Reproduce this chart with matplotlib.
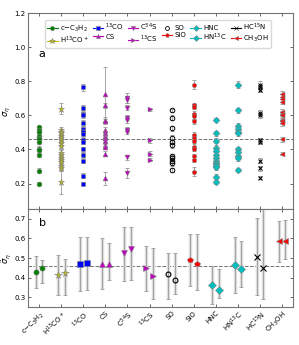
import matplotlib
matplotlib.use('Agg')
import matplotlib.pyplot as plt
from matplotlib.lines import Line2D
import numpy as np

# categories (tick labels in panel b)
species = ['c$-$C$_3$H$_2$', 'H$^{13}$CO$^+$', '$^{13}$CO', 'CS', 'C$^{34}$S', '$^{13}$CS',
           'SO', 'SiO', 'HNC', 'HN$^{13}$C', 'HC$^{15}$N', 'CH$_3$OH']
legend_names = ['c$-$C$_3$H$_2$', 'H$^{13}$CO$^+$', '$^{13}$CO', 'CS', 'C$^{34}$S', '$^{13}$CS',
                'SO', 'SiO', 'HNC', 'HN$^{13}$C', 'HC$^{15}$N', 'CH$_3$OH']
colors = ['green', 'y', 'b', 'm', 'm', 'm', 'k', 'r', 'c', 'c', 'k', 'r']
markers = ['o', '*', 's', '^', 'v', '>', 'o', 'p', 'D', 'D', 'x', '<']

# panel a: sigma_eta for individual regions
sig_a = [
    [0.53, 0.515, 0.50, 0.48, 0.47, 0.46, 0.445, 0.405, 0.395, 0.37, 0.275, 0.20],
    [0.64, 0.515, 0.505, 0.495, 0.48, 0.47, 0.455, 0.435, 0.42, 0.38, 0.365, 0.35, 0.34, 0.325, 0.305, 0.29, 0.21],
    [0.765, 0.645, 0.61, 0.60, 0.555, 0.52, 0.51, 0.50, 0.49, 0.455, 0.445, 0.40, 0.37, 0.335, 0.245, 0.20],
    [0.725, 0.66, 0.575, 0.565, 0.515, 0.495, 0.48, 0.465, 0.45, 0.425, 0.415, 0.375, 0.23],
    [0.70, 0.69, 0.645, 0.585, 0.57, 0.515, 0.505, 0.355, 0.26],
    [0.635, 0.455, 0.375, 0.34],
    [0.63, 0.585, 0.525, 0.47, 0.445, 0.425, 0.36, 0.35, 0.335, 0.32, 0.28],
    [0.78, 0.66, 0.65, 0.61, 0.595, 0.565, 0.485, 0.465, 0.45, 0.415, 0.405, 0.36, 0.34, 0.27],
    [0.575, 0.495, 0.45, 0.41, 0.39, 0.37, 0.35, 0.335, 0.32, 0.315, 0.30, 0.295, 0.24, 0.21],
    [0.78, 0.63, 0.54, 0.52, 0.505, 0.495, 0.40, 0.385, 0.36, 0.35, 0.28],
    [0.78, 0.765, 0.75, 0.615, 0.60, 0.455, 0.445, 0.335, 0.29, 0.235],
    [0.725, 0.71, 0.695, 0.68, 0.62, 0.61, 0.60, 0.575, 0.565, 0.555, 0.46, 0.375],
]
# errors of the highest and lowest point of each species (others small)
err_top = [0.01, 0.03, 0.02, 0.16, 0.03, 0.01, 0.01, 0.025, 0.01, 0.02, 0.02, 0.02]
err_low = [0.01, 0.07, 0.01, 0.04, 0.03, 0.01, 0.01, 0.025, 0.01, 0.01, 0.01, 0.01]

# panel b: two global estimates per species with ranges
sig_b1 = [0.43, 0.415, 0.47, 0.47, 0.525, 0.45, 0.42, 0.488, 0.362, 0.466, 0.505, 0.585]
lo_b1 = [0.345, 0.31, 0.33, 0.34, 0.385, 0.33, 0.292, 0.356, 0.267, 0.323, 0.309, 0.478]
hi_b1 = [0.51, 0.515, 0.605, 0.60, 0.66, 0.563, 0.526, 0.624, 0.458, 0.61, 0.703, 0.69]
sig_b2 = [0.45, 0.425, 0.475, 0.47, 0.545, 0.41, 0.39, 0.472, 0.336, 0.446, 0.45, 0.587]
lo_b2 = [0.375, 0.31, 0.335, 0.39, 0.39, 0.29, 0.318, 0.339, 0.296, 0.35, 0.29, 0.496]
hi_b2 = [0.49, 0.495, 0.605, 0.575, 0.66, 0.553, 0.526, 0.624, 0.446, 0.585, 0.76, 0.695]

mean_sigma = 0.46

plt.rcParams['font.size'] = 5
fig = plt.figure(figsize=(2.99, 3.45), dpi=100)
ax1 = fig.add_axes([0.094, 0.394, 0.886, 0.568])
ax2 = fig.add_axes([0.094, 0.110, 0.886, 0.284])

x = np.arange(1, len(species) + 1)

for i in range(len(species)):
    vals = np.array(sig_a[i])
    err = np.full(len(vals), 0.015)
    err[np.argmax(vals)] = err_top[i]
    err[np.argmin(vals)] = err_low[i]
    xs = np.full(len(vals), x[i])
    ax1.errorbar(xs, vals, yerr=err, fmt='none', ecolor='0.6', elinewidth=0.6,
                 capsize=1.5, capthick=0.6, zorder=1)
    if markers[i] == 'o' and colors[i] == 'k':
        ax1.plot(xs, vals, ls='none', marker='o', mfc='none', mec='k', ms=3.3, mew=0.7, zorder=2)
    else:
        ax1.plot(xs, vals, ls='none', marker=markers[i], color=colors[i], ms=3.5 if markers[i] != '*' else 5,
                 mec='0.5' if markers[i] != 'x' else 'k', mew=0.4 if markers[i] != 'x' else 0.8, zorder=2)

    # panel b
    xb = [x[i] - 0.15, x[i] + 0.15]
    yb = [sig_b1[i], sig_b2[i]]
    lo = [sig_b1[i] - lo_b1[i], sig_b2[i] - lo_b2[i]]
    hi = [hi_b1[i] - sig_b1[i], hi_b2[i] - sig_b2[i]]
    ax2.errorbar(xb, yb, yerr=[lo, hi], fmt='none', ecolor='0.87', elinewidth=2.5, zorder=1)
    ax2.errorbar(xb, yb, yerr=[lo, hi], fmt='none', ecolor='0.55', elinewidth=0.5,
                 capsize=1.5, capthick=0.5, zorder=1.5)
    if markers[i] == 'o' and colors[i] == 'k':
        ax2.plot(xb, yb, ls='none', marker='o', mfc='none', mec='k', ms=3.5, mew=0.8, zorder=2)
    else:
        ax2.plot(xb, yb, ls='none', marker=markers[i], color=colors[i], ms=3.8 if markers[i] != '*' else 5.5,
                 mec='0.5' if markers[i] != 'x' else 'k', mew=0.4 if markers[i] != 'x' else 0.8, zorder=2)

for ax in (ax1, ax2):
    ax.axhline(mean_sigma, color='0.45', ls='--', lw=0.7, zorder=0)
    ax.set_xlim(0.5, 12.5)
    ax.set_xticks(x)
    ax.tick_params(direction='in', top=True, right=True, length=2.5, width=0.6,
                   labelsize=5, color='0.3', pad=2)
    for s in ax.spines.values():
        s.set_color('0.45')
        s.set_linewidth(0.8)

ax1.set_ylim(0.05, 1.2)
ax1.set_yticks([0.2, 0.4, 0.6, 0.8, 1.0, 1.2])
ax1.set_xticklabels([])
ax1.set_ylabel(r'$\sigma_\eta$', fontsize=6, labelpad=1)
ax1.text(0.04, 0.775, 'a', transform=ax1.transAxes, fontsize=8)

ax2.set_ylim(0.25, 0.75)
ax2.set_yticks([0.3, 0.4, 0.5, 0.6, 0.7])
ax2.set_xticklabels(species, rotation=45, ha='right', rotation_mode='anchor', fontsize=5)
ax2.set_ylabel(r'$\tilde{\sigma}_\eta$', fontsize=6, labelpad=1)
ax2.text(0.04, 0.83, 'b', transform=ax2.transAxes, fontsize=8)

handles = []
for i in range(len(species)):
    if colors[i] == 'k' and markers[i] == 'o':
        h = Line2D([], [], ls='none', marker='o', mfc='none', mec='k', ms=2.8, mew=0.6)
    else:
        h = Line2D([], [], ls='-', lw=0.8, color=colors[i], marker=markers[i],
                   ms=3 if markers[i] != '*' else 4, mec='0.5' if markers[i] != 'x' else colors[i], mew=0.4)
    handles.append(h)
ax1.legend(handles, legend_names, ncol=6, loc='upper center', bbox_to_anchor=(0.49, 0.985),
           fontsize=5, handlelength=1.5, handletextpad=0.3, columnspacing=0.6,
           labelspacing=0.1, borderpad=0.3, framealpha=1, edgecolor='0.85', fancybox=True)

fig.savefig('out.png', dpi=100)
